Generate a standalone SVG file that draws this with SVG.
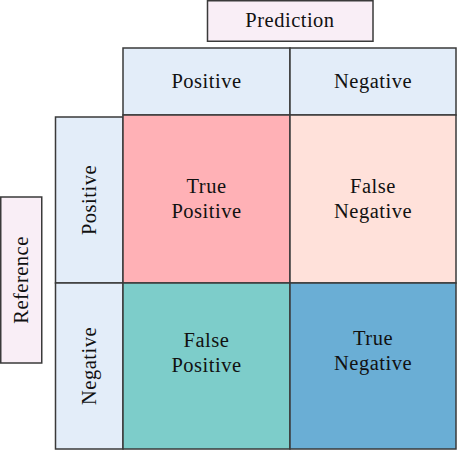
<svg xmlns="http://www.w3.org/2000/svg" width="457" height="450" viewBox="0 0 457 450" font-family="Liberation Serif, Times New Roman, serif">
<style>
rect{stroke:#3a3a3a;stroke-width:1.5}
text{font-size:20.5px;letter-spacing:0.5px;fill:#111;text-anchor:middle}
.hdr{fill:#e3edf9}
.lab{fill:#f9eef6}
</style>
<g id="prediction"><rect class="lab" x="207.5" y="0.75" width="165.5" height="40.5"/><text x="290" y="27">Prediction</text></g>
<g id="reference"><rect class="lab" x="0.75" y="197" width="41" height="166"/><text transform="translate(28,280) rotate(-90)">Reference</text></g>
<g id="pred-pos"><rect class="hdr" x="123" y="48" width="167" height="67"/><text x="206.5" y="88">Positive</text></g>
<g id="pred-neg"><rect class="hdr" x="290" y="48" width="166" height="67"/><text x="373" y="88">Negative</text></g>
<g id="ref-pos"><rect class="hdr" x="55.5" y="117" width="67.5" height="166"/><text transform="translate(96,200) rotate(-90)">Positive</text></g>
<g id="ref-neg"><rect class="hdr" x="55.5" y="283" width="67.5" height="166"/><text transform="translate(96,366) rotate(-90)">Negative</text></g>
<g id="tp"><rect fill="#ffb1b6" x="123" y="115" width="167" height="168"/><text x="206.5" y="193">True</text><text x="206.5" y="218">Positive</text></g>
<g id="fn"><rect fill="#ffe1da" x="290" y="115" width="166" height="168"/><text x="373" y="193">False</text><text x="373" y="218">Negative</text></g>
<g id="fp"><rect fill="#7dcdca" x="123" y="283" width="167" height="166"/><text x="206.5" y="347">False</text><text x="206.5" y="372">Positive</text></g>
<g id="tn"><rect fill="#6aaed5" x="290" y="283" width="166" height="166"/><text x="373" y="345">True</text><text x="373" y="370">Negative</text></g>
<g id="connectors"/>
</svg>
